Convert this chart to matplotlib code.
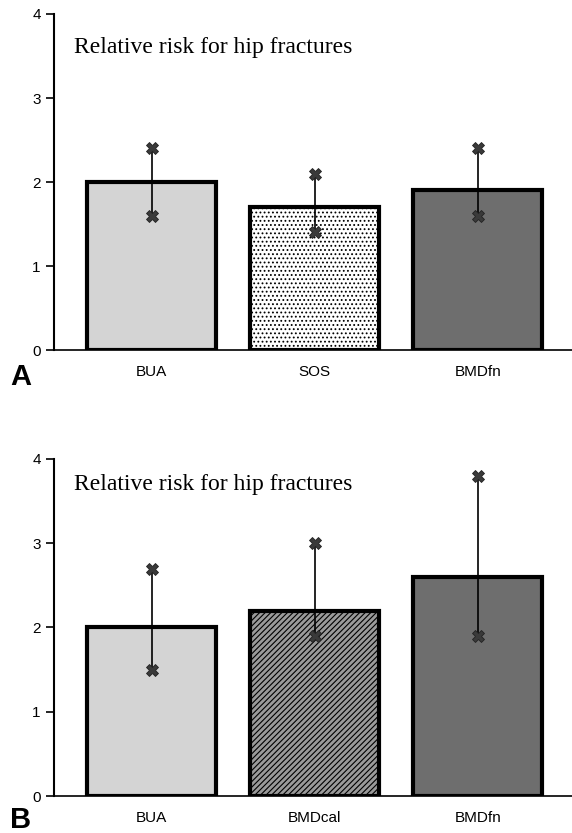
import matplotlib
matplotlib.use("Agg")
import matplotlib.pyplot as plt

# Panel A data
labels_a = ["BUA", "SOS", "BMDfn"]
rr_a = [2.0, 1.7, 1.9]
lo_a = [1.6, 1.4, 1.6]
hi_a = [2.4, 2.1, 2.4]

# Panel B data
labels_b = ["BUA", "BMDcal", "BMDfn"]
rr_b = [2.0, 2.2, 2.6]
lo_b = [1.5, 1.9, 1.9]
hi_b = [2.7, 3.0, 3.8]

styles = {
    "BUA": dict(color="#d4d4d4", hatch=None),
    "SOS": dict(color="white", hatch="...."),
    "BMDfn": dict(color="#6e6e6e", hatch=None),
    "BMDcal": dict(color="#9a9a9a", hatch="//////"),
}

plt.rcParams["hatch.linewidth"] = 0.8
fig = plt.figure(figsize=(5.72, 8.33), dpi=100)


def panel(rect, labels, rr, lo, hi, letter, title_y, letter_y):
    ax = fig.add_axes(rect)
    x = range(len(labels))
    for i, lab in enumerate(labels):
        st = styles[lab]
        ax.bar(i, rr[i], width=0.79, color=st["color"], hatch=st["hatch"],
               edgecolor="black", linewidth=3.0, zorder=2)
        ax.plot([i, i], [lo[i], hi[i]], color="black", lw=1.2, zorder=3)
        ax.plot([i, i], [lo[i], hi[i]], ls="none", marker="X", ms=8,
                color="#3a3a3a", mec="#222222", mew=0.6, zorder=4)
    ax.set_xlim(-0.6, 2.578)
    ax.set_ylim(0, 4)
    ax.set_yticks([0, 1, 2, 3, 4])
    ax.set_xticks(list(x))
    ax.set_xticklabels(labels, fontsize=11, family="Liberation Sans")
    ax.tick_params(axis="x", length=0, pad=11)
    ax.tick_params(axis="y", length=6, width=1.2, direction="out", labelsize=11)
    for t in ax.get_yticklabels():
        t.set_family("Liberation Sans")
    ax.spines["top"].set_visible(False)
    ax.spines["right"].set_visible(False)
    ax.spines["left"].set_linewidth(1.5)
    ax.spines["bottom"].set_linewidth(1.2)
    ax.text(-0.48, title_y, "Relative risk for hip fractures",
            family="Liberation Serif", fontsize=17, va="center")
    ax.text(-0.085, letter_y, letter, transform=ax.transAxes, fontsize=21,
            fontweight="bold", family="Liberation Sans", ha="left", va="center")
    return ax


panel([0.0944, 0.5798, 0.9056, 0.4034], labels_a, rr_a, lo_a, hi_a, "A", 3.6, -0.08)
panel([0.0944, 0.0444, 0.9056, 0.4046], labels_b, rr_b, lo_b, hi_b, "B", 3.7, -0.07)

fig.savefig("out.png", dpi=100)
